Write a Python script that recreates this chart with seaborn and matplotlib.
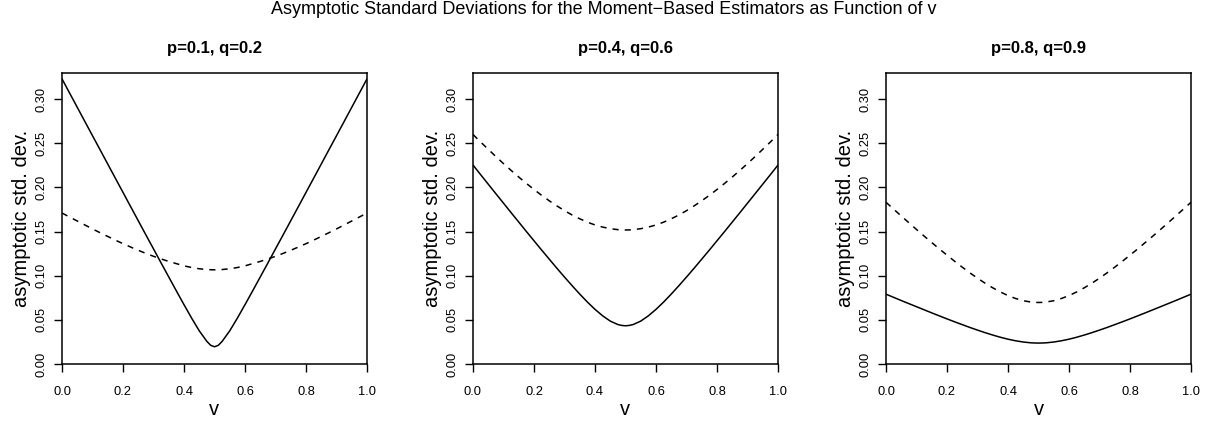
import pandas as pd
import seaborn as sns
import matplotlib.pyplot as plt

# valores (v de 0 a 1, passo 0.025, mais dois pontos perto de 0.5)
v = [0.0, 0.025, 0.05, 0.075, 0.1, 0.125, 0.15, 0.175, 0.2, 0.225,
     0.25, 0.275, 0.3, 0.325, 0.35, 0.375, 0.4, 0.425, 0.45, 0.475, 0.4875,
     0.5, 0.5125, 0.525, 0.55, 0.575, 0.6, 0.625, 0.65, 0.675, 0.7, 0.725,
     0.75, 0.775, 0.8, 0.825, 0.85, 0.875, 0.9, 0.925, 0.95, 0.975, 1.0]

titulos = ['p=0.1, q=0.2', 'p=0.4, q=0.6', 'p=0.8, q=0.9']

solido_1 = [0.323, 0.3069, 0.2908, 0.2747, 0.2586, 0.2426, 0.2265, 0.2104, 0.1944, 0.1783,
            0.1623, 0.1463, 0.1304, 0.1144, 0.0986, 0.0828, 0.0672, 0.0520, 0.0376, 0.0256, 0.0212,
            0.0195, 0.0212, 0.0256, 0.0376, 0.0520, 0.0672, 0.0828, 0.0986, 0.1144, 0.1304, 0.1463,
            0.1623, 0.1783, 0.1944, 0.2104, 0.2265, 0.2426, 0.2586, 0.2747, 0.2908, 0.3069, 0.323]
tracejado_1 = [0.171, 0.1665, 0.162, 0.1575, 0.153, 0.1487, 0.1445, 0.1403, 0.1363, 0.1325,
               0.1288, 0.1253, 0.1220, 0.1190, 0.1162, 0.1137, 0.1112, 0.1093, 0.1079, 0.1070, 0.1068,
               0.1067, 0.1068, 0.1070, 0.1079, 0.1093, 0.1112, 0.1137, 0.1162, 0.1190, 0.1220, 0.1253,
               0.1288, 0.1325, 0.1363, 0.1403, 0.1445, 0.1487, 0.153, 0.1575, 0.162, 0.1665, 0.171]

solido_2 = [0.2254, 0.2145, 0.2037, 0.1929, 0.1822, 0.1714, 0.1608, 0.1501, 0.1396, 0.1291,
            0.1188, 0.1085, 0.0985, 0.0887, 0.0792, 0.0702, 0.0619, 0.0546, 0.0486, 0.0447, 0.0437,
            0.0433, 0.0437, 0.0447, 0.0486, 0.0546, 0.0619, 0.0702, 0.0792, 0.0887, 0.0985, 0.1085,
            0.1188, 0.1291, 0.1396, 0.1501, 0.1608, 0.1714, 0.1822, 0.1929, 0.2037, 0.2145, 0.2254]
tracejado_2 = [0.2600, 0.2515, 0.2432, 0.2350, 0.2270, 0.2193, 0.2118, 0.2046, 0.1977, 0.1911,
               0.1849, 0.1791, 0.1737, 0.1688, 0.1645, 0.1607, 0.1575, 0.1551, 0.1533, 0.1522, 0.1519,
               0.1518, 0.1519, 0.1522, 0.1533, 0.1551, 0.1575, 0.1607, 0.1645, 0.1688, 0.1737, 0.1791,
               0.1849, 0.1911, 0.1977, 0.2046, 0.2118, 0.2193, 0.2270, 0.2350, 0.2432, 0.2515, 0.2600]

solido_3 = [0.0791, 0.0755, 0.0719, 0.0684, 0.0649, 0.0614, 0.0579, 0.0545, 0.0511, 0.0478,
            0.0446, 0.0414, 0.0384, 0.0355, 0.0328, 0.0303, 0.0281, 0.0263, 0.0249, 0.0240, 0.0238,
            0.0237, 0.0238, 0.0240, 0.0249, 0.0263, 0.0281, 0.0303, 0.0328, 0.0355, 0.0384, 0.0414,
            0.0446, 0.0478, 0.0511, 0.0545, 0.0579, 0.0614, 0.0649, 0.0684, 0.0719, 0.0755, 0.0791]
tracejado_3 = [0.1832, 0.1754, 0.1677, 0.1600, 0.1524, 0.1449, 0.1376, 0.1303, 0.1233, 0.1164,
               0.1097, 0.1033, 0.0972, 0.0915, 0.0863, 0.0816, 0.0775, 0.0742, 0.0717, 0.0702, 0.0698,
               0.0697, 0.0698, 0.0702, 0.0717, 0.0742, 0.0775, 0.0816, 0.0863, 0.0915, 0.0972, 0.1033,
               0.1097, 0.1164, 0.1233, 0.1303, 0.1376, 0.1449, 0.1524, 0.1600, 0.1677, 0.1754, 0.1832]

sns.set_style("ticks")
plt.rcParams['font.family'] = ['Liberation Sans', 'DejaVu Sans']
plt.rcParams['text.color'] = 'black'
plt.rcParams['axes.labelcolor'] = 'black'

fig = plt.figure(figsize=(12.07, 4.21), dpi=100)
lefts = [62 / 1207, 473 / 1207, 886 / 1207]
largura = 305 / 1207
baixo = (421 - 364) / 421
altura = (364 - 72.7) / 421

series = [(solido_1, tracejado_1), (solido_2, tracejado_2), (solido_3, tracejado_3)]

for i, (sol, tra) in enumerate(series):
    ax = fig.add_axes([lefts[i], baixo, largura, altura])
    df = pd.DataFrame({'v': v, 'solido': sol, 'tracejado': tra})
    sns.lineplot(data=df, x='v', y='solido', ax=ax, color='black', linewidth=1.1)
    sns.lineplot(data=df, x='v', y='tracejado', ax=ax, color='black', linewidth=1.1,
                 dashes=False, linestyle=(0, (4, 4)))
    ax.set_xlim(0, 1)
    ax.set_ylim(0, 0.33)
    ax.set_xticks([0, 0.2, 0.4, 0.6, 0.8, 1.0])
    ax.set_xticklabels(['0.0', '0.2', '0.4', '0.6', '0.8', '1.0'])
    ax.set_yticks([0, 0.05, 0.10, 0.15, 0.20, 0.25, 0.30])
    ax.set_yticklabels(['0.00', '0.05', '0.10', '0.15', '0.20', '0.25', '0.30'],
                       rotation=90, va='center')
    ax.tick_params(axis='x', direction='out', length=5.5, width=1, labelsize=9.3, pad=10,
                   color='black', labelcolor='black')
    ax.tick_params(axis='y', direction='out', length=5.5, width=1, labelsize=9.3, pad=5,
                   color='black', labelcolor='black')
    for s in ax.spines.values():
        s.set_visible(True)
        s.set_linewidth(1.1)
        s.set_color('black')
    ax.set_xlabel('v', fontsize=14.5, labelpad=2)
    ax.set_ylabel('asymptotic std. dev.', fontsize=14.5, labelpad=3)
    ax.set_title(titulos[i], fontsize=12, fontweight='bold', pad=14)

fig.suptitle('Asymptotic Standard Deviations for the Moment\u2212Based Estimators as Function of v',
             fontsize=13, y=0.997, va='top')

plt.savefig('out.png', dpi=100)
